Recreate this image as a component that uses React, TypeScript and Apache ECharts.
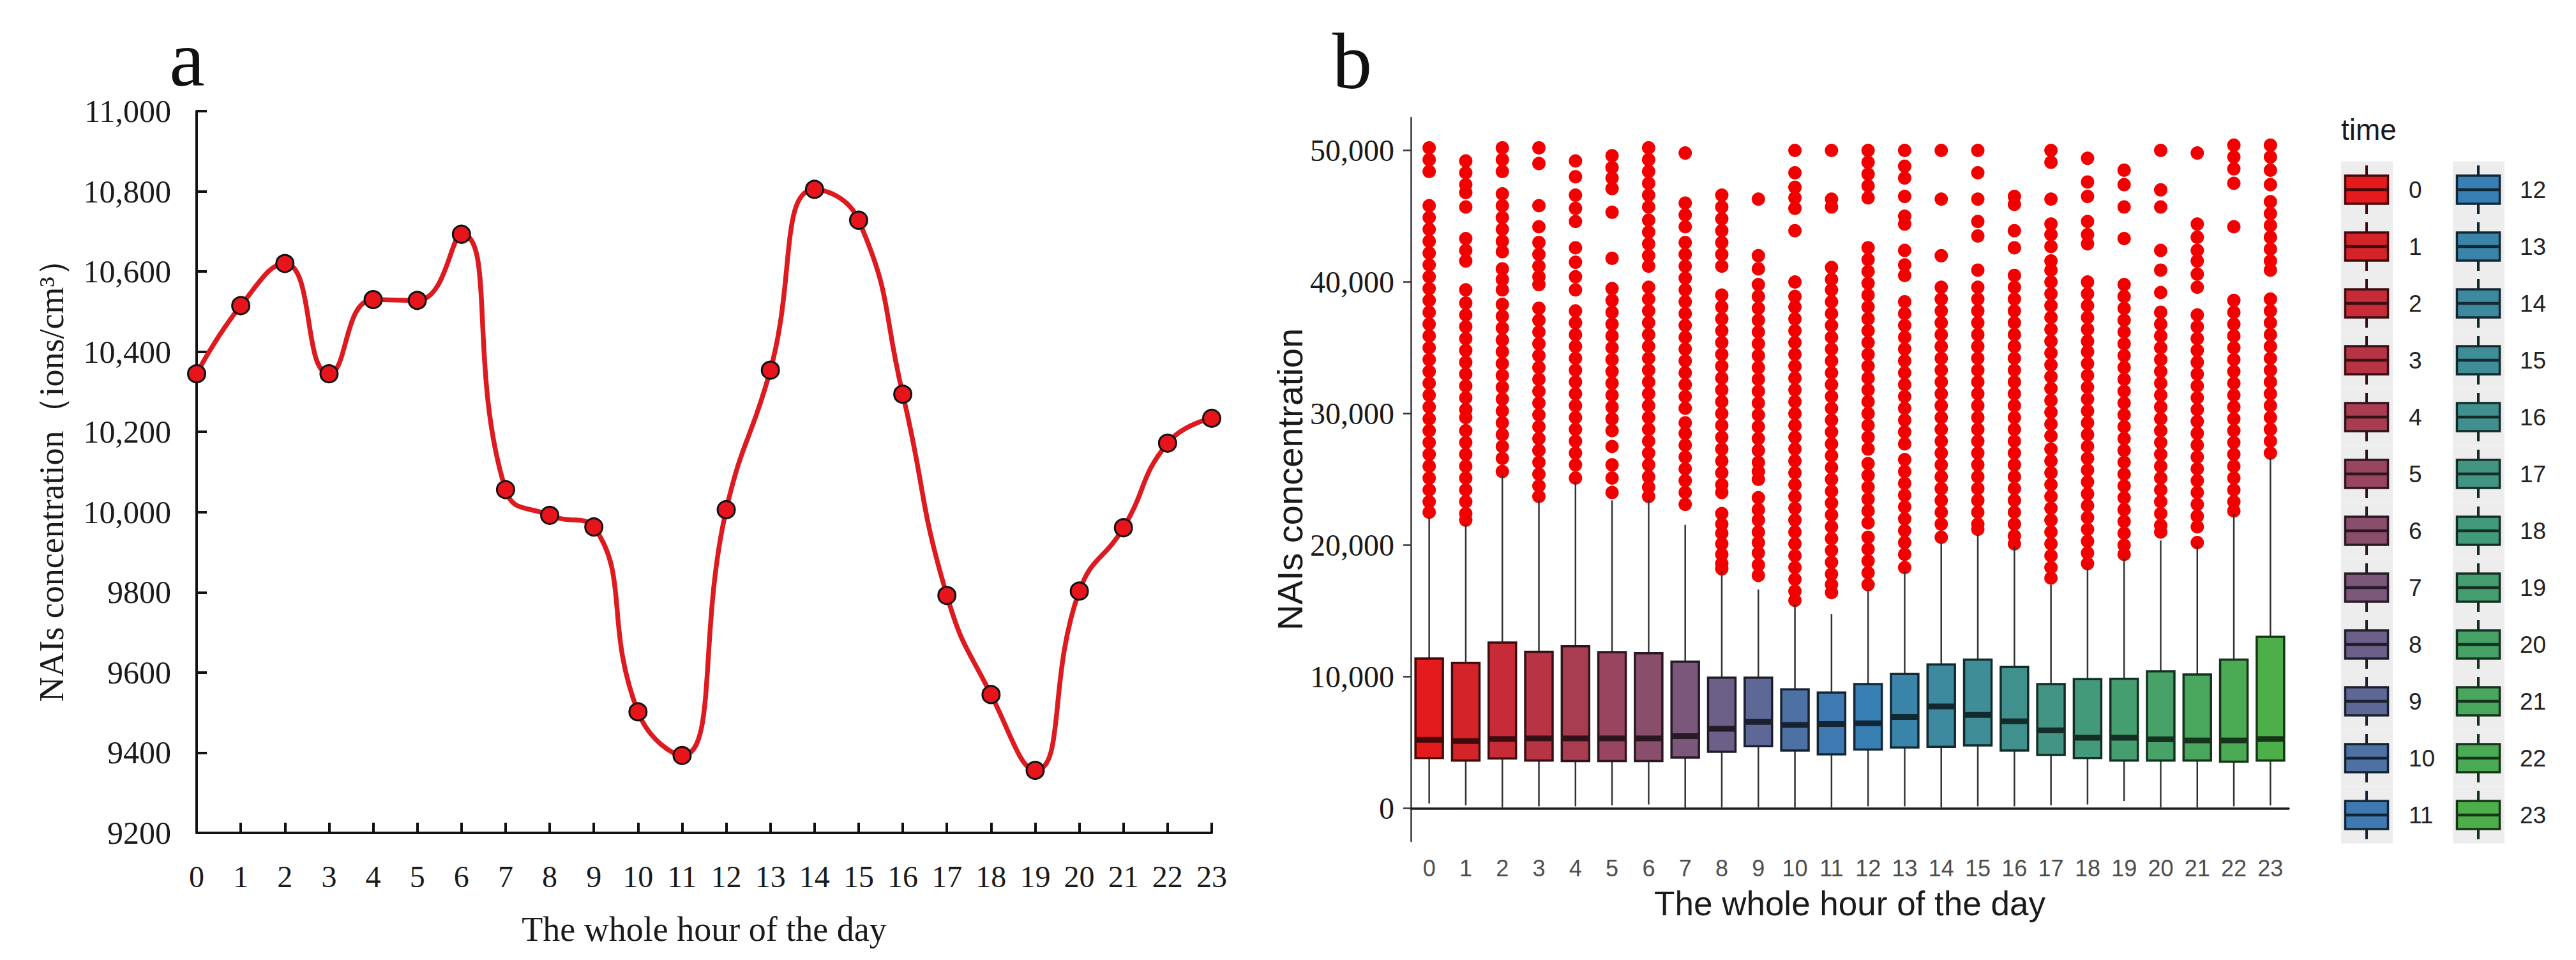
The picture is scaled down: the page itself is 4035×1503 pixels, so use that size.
import React, { useEffect, useRef } from 'react';
import * as echarts from 'echarts';

// ---------- Panel a: hourly mean NAIs ----------
const hourLabels = ['0','1','2','3','4','5','6','7','8','9','10','11','12','13','14','15','16','17','18','19','20','21','22','23'];
const meanValues = [10345, 10515, 10620, 10345, 10530, 10528, 10693, 10056, 9992, 9963, 9502, 9393, 10006, 10354, 10805, 10728, 10294, 9792, 9545, 9356, 9803, 9961, 10172, 10234];
const aYTicks = [9200, 9400, 9600, 9800, 10000, 10200, 10400, 10600, 10800, 11000];

// ---------- Panel b: boxplot statistics per hour ----------
const boxLow = [359, 228, 68, 150, 150, 228, 290, 34, 68, 68, 68, 68, 150, 150, 68, 150, 150, 228, 290, 553, 68, 68, 150, 228];
const boxQ1 = [3817, 3623, 3785, 3623, 3590, 3590, 3590, 3865, 4302, 4723, 4398, 4107, 4463, 4627, 4675, 4787, 4398, 4059, 3817, 3623, 3623, 3623, 3542, 3623];
const boxMedian = [5208, 5110, 5271, 5320, 5320, 5320, 5320, 5482, 6047, 6567, 6338, 6403, 6452, 6936, 7745, 7100, 6615, 5917, 5368, 5368, 5240, 5160, 5160, 5271];
const boxQ3 = [11382, 11057, 12595, 11899, 12319, 11867, 11786, 11140, 9927, 9927, 9039, 8795, 9442, 10202, 10929, 11300, 10736, 9442, 9815, 9847, 10412, 10170, 11300, 13030];
const boxHigh = [22100, 21600, 25300, 23400, 24800, 23400, 23400, 21540, 18000, 16636, 15500, 14776, 16600, 18000, 20237, 20790, 19900, 17000, 18300, 19000, 20350, 20000, 22400, 26625];
const bYTicks = [0, 10000, 20000, 30000, 40000, 50000];

// outliers per hour, in thousands of ions/cm3
const outliersK: number[][] = [
  [50.2, 49.3, 48.4, 45.8, 44.9, 44.0, 43.1, 42.2, 41.3, 40.4, 39.5, 38.6, 37.7, 36.8, 35.9, 35.0, 34.1, 33.2, 32.3, 31.4, 30.5, 29.6, 28.7, 27.8, 26.9, 26.0, 25.1, 24.2, 23.3, 22.5],
  [49.2, 48.3, 47.4, 46.8, 45.7, 43.3, 42.4, 41.6, 39.4, 38.4, 37.5, 36.6, 35.7, 34.8, 33.9, 33.0, 32.1, 31.2, 30.3, 29.7, 28.7, 27.8, 26.9, 26.0, 25.1, 24.2, 23.3, 22.4, 21.9],
  [50.2, 49.3, 48.4, 46.7, 45.8, 44.9, 44.0, 43.1, 42.3, 41.0, 40.2, 39.4, 38.3, 37.4, 36.5, 35.6, 34.7, 33.8, 32.9, 32.0, 31.1, 30.2, 29.3, 28.4, 27.5, 26.6, 25.6],
  [50.2, 49.0, 45.8, 44.2, 43.0, 42.1, 41.2, 40.4, 39.8, 38.0, 37.1, 36.2, 35.3, 34.4, 33.5, 32.6, 31.7, 30.8, 29.9, 29.0, 28.1, 27.2, 26.3, 25.4, 24.5, 23.7],
  [49.2, 48.0, 46.6, 45.6, 44.6, 42.6, 41.5, 40.4, 39.4, 37.8, 36.9, 36.0, 35.1, 34.2, 33.3, 32.4, 31.5, 30.6, 29.7, 28.8, 27.9, 27.0, 26.1, 25.1],
  [49.6, 48.7, 47.9, 47.1, 45.3, 41.8, 39.5, 38.6, 37.7, 36.8, 35.9, 35.0, 34.1, 33.2, 32.3, 31.4, 30.5, 29.6, 28.7, 27.5, 26.1, 25.1, 24.0],
  [50.2, 49.3, 48.4, 47.5, 46.6, 45.7, 44.7, 43.8, 42.9, 42.0, 41.2, 39.6, 38.7, 37.8, 36.9, 36.0, 35.1, 34.2, 33.3, 32.4, 31.5, 30.6, 29.7, 28.8, 27.9, 27.0, 26.1, 25.2, 24.4, 23.7],
  [49.8, 46.0, 45.1, 44.2, 43.0, 42.1, 41.2, 40.3, 39.4, 38.5, 37.6, 36.7, 35.8, 34.9, 34.0, 33.1, 32.2, 31.3, 30.4, 29.3, 28.5, 27.6, 26.7, 25.8, 24.9, 24.0, 23.1],
  [46.6, 45.7, 44.8, 43.9, 43.0, 42.1, 41.2, 39.0, 38.1, 37.2, 36.3, 35.4, 34.5, 33.6, 32.7, 31.8, 30.9, 30.0, 29.1, 28.2, 27.3, 26.4, 25.5, 24.6, 24.0, 22.4, 21.6, 20.9, 20.1, 19.3, 18.6, 18.2],
  [46.3, 42.0, 41.0, 39.8, 38.9, 38.0, 37.1, 36.2, 35.3, 34.4, 33.5, 32.6, 31.7, 30.8, 29.9, 29.0, 28.1, 27.2, 26.3, 25.6, 25.0, 23.6, 22.7, 21.9, 21.0, 20.2, 19.4, 18.5, 17.7],
  [50.0, 48.3, 47.2, 46.4, 45.6, 43.9, 40.0, 38.9, 38.1, 37.2, 36.3, 35.4, 34.5, 33.6, 32.7, 31.8, 30.9, 30.0, 29.1, 28.2, 27.3, 26.4, 25.5, 24.6, 23.7, 22.8, 21.9, 21.0, 20.1, 19.2, 18.3, 17.4, 16.5, 15.8],
  [50.0, 46.3, 45.7, 41.1, 40.2, 39.4, 38.5, 37.6, 36.7, 35.8, 34.9, 34.0, 33.1, 32.2, 31.3, 30.4, 29.5, 28.6, 27.7, 26.8, 25.9, 25.0, 24.1, 23.2, 22.3, 21.4, 20.5, 19.6, 18.7, 17.8, 17.0, 16.4],
  [50.0, 49.1, 48.2, 47.3, 46.4, 42.6, 41.7, 40.8, 39.9, 39.0, 38.1, 37.2, 36.3, 35.4, 34.5, 33.6, 32.7, 31.8, 30.9, 30.0, 29.1, 28.2, 27.3, 26.2, 25.3, 24.4, 23.5, 22.6, 21.7, 20.6, 19.7, 18.8, 17.9, 17.0],
  [50.0, 48.8, 47.9, 46.5, 45.0, 44.4, 42.4, 41.3, 40.5, 38.5, 37.6, 36.7, 35.8, 34.9, 34.0, 33.1, 32.2, 31.3, 30.4, 29.5, 28.6, 27.7, 26.5, 25.6, 24.7, 23.8, 22.9, 22.0, 21.1, 20.2, 19.3, 18.3],
  [50.0, 46.3, 42.0, 39.6, 38.7, 37.8, 36.9, 36.0, 35.1, 34.2, 33.3, 32.4, 31.5, 30.6, 29.7, 28.8, 27.9, 27.0, 26.1, 25.2, 24.3, 23.4, 22.5, 21.6, 20.6],
  [50.0, 48.3, 46.3, 44.6, 43.5, 40.9, 39.6, 38.7, 37.8, 36.9, 36.0, 35.1, 34.2, 33.3, 32.4, 31.5, 30.6, 29.7, 28.8, 27.9, 27.0, 26.1, 25.2, 24.3, 23.4, 22.5, 21.6, 21.2],
  [46.5, 45.9, 43.9, 42.6, 40.5, 39.6, 38.7, 37.8, 36.9, 36.0, 35.1, 34.2, 33.3, 32.4, 31.5, 30.6, 29.7, 28.8, 27.9, 27.0, 26.1, 25.2, 24.3, 23.4, 22.5, 21.6, 20.7, 20.1],
  [50.0, 49.1, 46.3, 44.4, 43.6, 42.7, 41.6, 40.9, 40.0, 39.1, 38.2, 37.3, 36.4, 35.5, 34.6, 33.7, 32.8, 31.9, 31.0, 30.1, 29.2, 28.3, 27.3, 26.4, 25.5, 24.6, 23.7, 22.8, 21.9, 21.0, 20.1, 19.2, 18.3, 17.5],
  [49.4, 47.6, 46.5, 44.6, 43.6, 42.9, 40.0, 39.1, 38.2, 37.3, 36.4, 35.5, 34.7, 33.8, 32.9, 32.0, 31.1, 30.2, 29.3, 28.4, 27.5, 26.6, 25.7, 24.8, 23.9, 23.0, 22.1, 21.2, 20.3, 19.4, 18.6],
  [48.5, 47.4, 45.7, 43.3, 39.8, 38.9, 38.0, 37.1, 36.2, 35.3, 34.4, 33.5, 32.6, 31.7, 30.8, 29.9, 29.0, 28.1, 27.2, 26.3, 25.4, 24.5, 23.6, 22.7, 21.8, 20.9, 20.0, 19.3],
  [50.0, 47.0, 45.7, 42.4, 40.9, 39.2, 37.7, 36.8, 35.9, 35.0, 34.1, 33.2, 32.3, 31.4, 30.5, 29.6, 28.7, 27.8, 26.9, 26.0, 25.1, 24.2, 23.3, 22.4, 21.5, 21.0],
  [49.8, 44.4, 43.4, 42.4, 41.6, 40.6, 39.6, 37.5, 36.6, 35.7, 34.8, 33.9, 33.0, 32.1, 31.2, 30.3, 29.4, 28.5, 27.6, 26.7, 25.8, 24.9, 24.0, 23.1, 22.2, 21.4, 20.2],
  [50.4, 49.5, 48.6, 47.5, 44.2, 38.6, 37.7, 36.8, 35.9, 35.0, 34.1, 33.2, 32.3, 31.4, 30.5, 29.6, 28.7, 27.8, 26.9, 26.0, 25.1, 24.2, 23.3, 22.6],
  [50.4, 49.5, 48.5, 47.4, 46.1, 45.2, 44.3, 43.4, 42.5, 41.6, 40.9, 38.7, 37.8, 36.9, 36.0, 35.1, 34.2, 33.3, 32.4, 31.5, 30.6, 29.7, 28.8, 27.9, 27.0],
];

// fill colours for each hour (red -> blue -> green ramp)
const boxColors = [
  '#E41A1C', '#D5232A', '#C62B37', '#B73445', '#A83D52', '#994560',
  '#8A4E6D', '#7B577B', '#6C6089', '#5D6896', '#4E71A4', '#3E7AB1',
  '#3880B3', '#3A84AA', '#3C89A0', '#3E8D97', '#40918D', '#429583',
  '#439A7A', '#459E70', '#47A267', '#49A75D', '#4BAB54', '#4DAF4A',
];

function darken(hex: string, f = 0.32) {
  const n = parseInt(hex.slice(1), 16);
  const r = Math.round(((n >> 16) & 255) * f);
  const g = Math.round(((n >> 8) & 255) * f);
  const b = Math.round((n & 255) * f);
  return `rgb(${r},${g},${b})`;
}

const commaFmt = (v: number) => (v >= 10000 ? v.toLocaleString('en-US') : String(v));

const SERIF = '"Liberation Serif", "Times New Roman", serif';
const SANS = '"Liberation Sans", Arial, sans-serif';

export default function App() {
  const ref = useRef<HTMLDivElement>(null);

  useEffect(() => {
    if (!ref.current) return;
    const chart = echarts.init(ref.current, null, { renderer: 'svg' });

    const boxData = hourLabels.map((_, i) => [i, boxLow[i], boxQ1[i], boxMedian[i], boxQ3[i], boxHigh[i]]);
    const outlierData: number[][] = [];
    outliersK.forEach((arr, h) => arr.forEach((v) => outlierData.push([h, Math.round(v * 1000)])));

    // legend graphics
    const legendEls: any[] = [];
    legendEls.push({
      type: 'text', left: 3667, top: 180,
      style: { text: 'time', font: `46px ${SANS}`, fill: '#1a1a1a' },
    });
    hourLabels.forEach((lab, idx) => {
      const col = idx < 12 ? 0 : 1;
      const row = idx % 12;
      const cx = col === 0 ? 3707 : 3882;
      const cy = 297 + row * 89;
      const c = boxColors[idx];
      const d = darken(c, 0.3);
      legendEls.push({ type: 'rect', shape: { x: cx - 40, y: cy - 44.5, width: 81, height: 89 }, style: { fill: '#ededed' }, silent: true });
      legendEls.push({ type: 'line', shape: { x1: cx, y1: cy - 38, x2: cx, y2: cy + 38 }, style: { stroke: d, lineWidth: 4 } });
      legendEls.push({ type: 'rect', shape: { x: cx - 33.5, y: cy - 22, width: 67, height: 44 }, style: { fill: c, stroke: d, lineWidth: 3.5 } });
      legendEls.push({ type: 'line', shape: { x1: cx - 33.5, y1: cy, x2: cx + 33.5, y2: cy }, style: { stroke: d, lineWidth: 4.5 } });
      legendEls.push({
        type: 'text', x: col === 0 ? 3773 : 3947, y: cy,
        style: { text: lab, font: `37px ${SANS}`, fill: '#222', verticalAlign: 'middle', align: 'left' },
      });
    });

    const option: any = {
      animation: false,
      backgroundColor: '#ffffff',
      grid: [
        { left: 308, top: 174, width: 1590, height: 1130 },
        { left: 2210, top: 184, width: 1375, height: 1133 },
      ],
      xAxis: [
        {
          gridIndex: 0, type: 'category', data: hourLabels, boundaryGap: false,
          axisLine: { lineStyle: { color: '#111', width: 4 } },
          axisTick: { inside: true, length: 16, lineStyle: { color: '#111', width: 4 } },
          axisLabel: { fontFamily: SERIF, fontSize: 48, color: '#1a1a1a', margin: 44 },
          splitLine: { show: false },
          name: 'The whole hour of the day', nameLocation: 'middle', nameGap: 124,
          nameTextStyle: { fontFamily: SERIF, fontSize: 54, color: '#1a1a1a' },
        },
        {
          gridIndex: 1, type: 'category', data: hourLabels, boundaryGap: true,
          axisLine: { lineStyle: { color: '#1a1a1a', width: 3.5 } },
          axisTick: { alignWithLabel: true, length: 12, lineStyle: { color: '#333', width: 2.5 } },
          axisLabel: { fontFamily: SANS, fontSize: 36, color: '#4d4d4d', margin: 24 },
          splitLine: { show: false },
          name: 'The whole hour of the day', nameLocation: 'middle', nameGap: 71,
          nameTextStyle: { fontFamily: SANS, fontSize: 53, color: '#1a1a1a' },
        },
      ],
      yAxis: [
        {
          gridIndex: 0, type: 'value', min: aYTicks[0], max: aYTicks[aYTicks.length - 1], interval: 200,
          axisLine: { show: true, lineStyle: { color: '#111', width: 4 } },
          axisTick: { show: true, inside: true, length: 16, lineStyle: { color: '#111', width: 4 } },
          axisLabel: { fontFamily: SERIF, fontSize: 50, color: '#1a1a1a', margin: 40, formatter: commaFmt },
          splitLine: { show: false },
          name: 'NAIs concentration（ions/cm³）', nameLocation: 'middle', nameGap: 200,
          nameTextStyle: { fontFamily: SERIF, fontSize: 54, color: '#1a1a1a' },
        },
        {
          gridIndex: 1, type: 'value', min: -2500, max: 52500,
          axisLine: { show: true, lineStyle: { color: '#333', width: 2.5 } },
          axisTick: { show: true, length: 12, customValues: bYTicks, lineStyle: { color: '#333', width: 2.5 } },
          axisLabel: {
            customValues: bYTicks,
            fontFamily: SERIF, fontSize: 48, color: '#1a1a1a', margin: 26,
            formatter: (v: number) => v.toLocaleString('en-US'),
          },
          splitLine: { show: false },
          name: 'NAIs concentration', nameLocation: 'middle', nameGap: 158,
          nameTextStyle: { fontFamily: SANS, fontSize: 56, color: '#1a1a1a' },
        },
      ],
      graphic: [
        { type: 'text', x: 293, y: 154, style: { text: 'a', font: `125px ${SERIF}`, fill: '#111', align: 'center', verticalAlign: 'bottom' } },
        { type: 'text', x: 2118, y: 158, style: { text: 'b', font: `125px ${SERIF}`, fill: '#111', align: 'center', verticalAlign: 'bottom' } },
        ...legendEls,
      ],
      series: [
        {
          type: 'line', xAxisIndex: 0, yAxisIndex: 0, data: meanValues,
          smooth: 0.5,
          lineStyle: { color: '#dd1a1f', width: 7.5 },
          symbol: 'circle', symbolSize: 27,
          itemStyle: { color: '#e8141b', borderColor: '#111', borderWidth: 3 },
          z: 3,
        },
        {
          type: 'scatter', xAxisIndex: 1, yAxisIndex: 1, data: outlierData,
          symbol: 'circle', symbolSize: 21,
          itemStyle: { color: '#f20000', opacity: 1 },
          z: 2,
        },
        {
          type: 'custom', xAxisIndex: 1, yAxisIndex: 1, data: boxData,
          encode: { x: 0, y: [1, 2, 3, 4, 5] },
          z: 3,
          renderItem: (params: any, api: any) => {
            const i = api.value(0);
            const pLow = api.coord([i, api.value(1)]);
            const pQ1 = api.coord([i, api.value(2)]);
            const pMed = api.coord([i, api.value(3)]);
            const pQ3 = api.coord([i, api.value(4)]);
            const pHigh = api.coord([i, api.value(5)]);
            const band = api.size([1, 0])[0];
            const w = band * 0.75;
            const x = pLow[0];
            const fill = boxColors[i];
            const dark = darken(fill, 0.3);
            return {
              type: 'group',
              children: [
                { type: 'line', shape: { x1: x, y1: pHigh[1], x2: x, y2: pQ3[1] }, style: { stroke: '#333', lineWidth: 2.5 } },
                { type: 'line', shape: { x1: x, y1: pQ1[1], x2: x, y2: pLow[1] }, style: { stroke: '#333', lineWidth: 2.5 } },
                { type: 'rect', shape: { x: x - w / 2, y: pQ3[1], width: w, height: pQ1[1] - pQ3[1] }, style: { fill, stroke: dark, lineWidth: 3.5 } },
                { type: 'line', shape: { x1: x - w / 2, y1: pMed[1], x2: x + w / 2, y2: pMed[1] }, style: { stroke: dark, lineWidth: 9 } },
              ],
            };
          },
        },
      ],
    };

    chart.setOption(option);
    return () => chart.dispose();
  }, []);

  return (
    <div
      ref={ref}
      style={{ position: 'fixed', left: 0, top: 0, width: 4035, height: 1503, background: '#fff' }}
    />
  );
}
